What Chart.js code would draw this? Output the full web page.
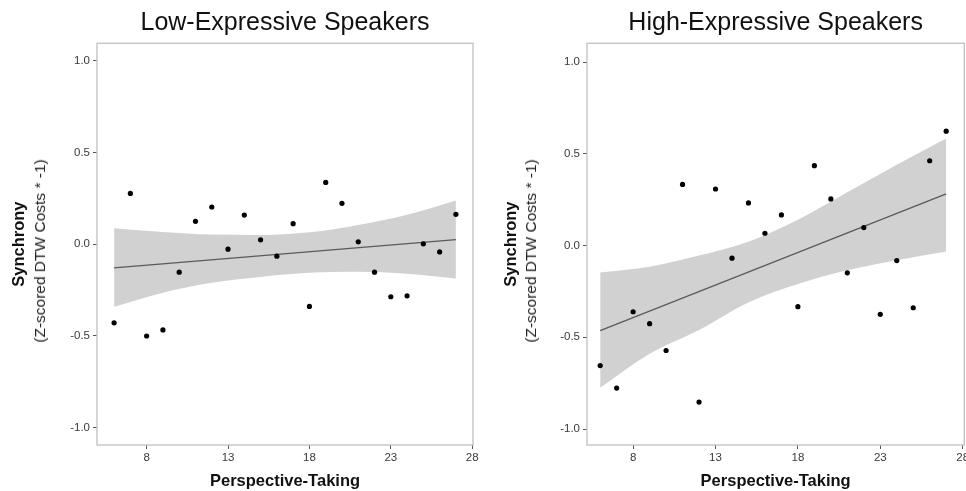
<!DOCTYPE html>
<html>
<head>
<meta charset="utf-8">
<script src="https://cdn.jsdelivr.net/npm/chart.js@4.4.1/dist/chart.umd.min.js"></script>
<style>
html,body{margin:0;padding:0;background:#fff;width:966px;height:491px;overflow:hidden;position:relative;}
.panel{position:absolute;top:0;height:491px;}
.sub{position:absolute;font-family:"Liberation Sans",Arial,Helvetica,sans-serif;font-size:15.5px;color:#222;white-space:nowrap;transform:translate(-50%,-50%) rotate(-90deg);}
</style>
</head>
<body>
<div class="panel" style="left:0;width:483px;"><canvas id="c1"></canvas></div>
<div class="panel" style="left:483px;width:500px;"><canvas id="c2"></canvas></div>
<div class="sub" style="left:39.7px;top:251px;">(Z-scored DTW Costs * -1)</div>
<div class="sub" style="left:531px;top:251px;">(Z-scored DTW Costs * -1)</div>
<script>
// ---- data ----
const panelTitles = ['Low-Expressive Speakers', 'High-Expressive Speakers'];
const xTitle = 'Perspective-Taking';
const yTitle = 'Synchrony';
const perspectiveTaking = [6,7,8,9,10,11,12,13,14,15,16,17,18,19,20,21,22,23,24,25,26,27];
const lowSynchrony = [-0.428,0.277,-0.500,-0.467,-0.152,0.125,0.203,-0.027,0.159,0.024,-0.065,0.112,-0.339,0.337,0.223,0.013,-0.152,-0.286,-0.281,0.002,-0.042,0.163];
const highSynchrony = [-0.654,-0.777,-0.361,-0.426,-0.572,0.333,-0.853,0.308,-0.069,0.232,0.067,0.167,-0.333,0.435,0.254,-0.149,0.098,-0.375,-0.082,-0.339,0.462,0.623];
const fitX = [6, 27];
const lowFit = [-0.129, 0.025];
const highFit = [-0.464, 0.281];
const bandX = [6, 9, 12, 15, 18, 21, 24, 27];
const lowUpper = [0.087, 0.067, 0.053, 0.051, 0.065, 0.105, 0.161, 0.239];
const lowLower = [-0.341, -0.264, -0.210, -0.178, -0.156, -0.150, -0.161, -0.187];
const highUpper = [-0.147, -0.115, -0.055, 0.020, 0.140, 0.290, 0.440, 0.583];
const highLower = [-0.775, -0.590, -0.460, -0.310, -0.210, -0.135, -0.080, -0.033];
const xTicks = [8, 13, 18, 23, 28];
const yTicks = [-1, -0.5, 0, 0.5, 1];
const yTickLabels = ['-1.0', '-0.5', '0.0', '0.5', '1.0'];

Chart.defaults.font.family = '"Liberation Sans", Arial, Helvetica, sans-serif';

const boxPlugin = {
  id: 'panelBox',
  afterDraw(chart) {
    const {ctx, chartArea: a} = chart;
    ctx.save();
    ctx.strokeStyle = '#c4c4c4';
    ctx.lineWidth = 1.4;
    ctx.strokeRect(a.left, a.top, a.right - a.left, a.bottom - a.top);
    ctx.restore();
  }
};

function pts(xs, ys) { return xs.map((x, i) => ({x: x, y: ys[i]})); }

function makePanel(id, title, ys, fit, upper, lower, cfg) {
  new Chart(document.getElementById(id), {
    type: 'scatter',
    data: {
      datasets: [
        {type: 'scatter', data: pts(perspectiveTaking, ys), backgroundColor: '#000', borderWidth: 0, pointRadius: 2.6, pointHoverRadius: 2.6},
        {type: 'line', data: pts(fitX, fit), borderColor: '#5a5a5a', borderWidth: 1.3, pointRadius: 0, fill: false},
        {type: 'line', data: pts(bandX, upper), borderWidth: 0, borderColor: 'rgba(0,0,0,0)', pointRadius: 0, fill: false, cubicInterpolationMode: 'monotone'},
        {type: 'line', data: pts(bandX, lower), borderWidth: 0, borderColor: 'rgba(0,0,0,0)', pointRadius: 0, fill: '-1', backgroundColor: '#d1d1d1', cubicInterpolationMode: 'monotone'}
      ]
    },
    options: {
      responsive: true,
      maintainAspectRatio: false,
      animation: false,
      layout: {padding: {left: 0, right: cfg.padRight, top: 0, bottom: 0}},
      plugins: {
        legend: {display: false},
        tooltip: {enabled: false},
        title: {
          display: true, text: title, fullSize: false,
          font: {size: 25, weight: 'normal'}, color: '#111',
          padding: {top: 8, bottom: 5.3}
        }
      },
      scales: {
        x: {
          type: 'linear', min: cfg.xmin, max: cfg.xmax,
          afterBuildTicks: s => { s.ticks = xTicks.map(v => ({value: v})); },
          afterFit: s => { s.height = 46; },
          ticks: {font: {size: 11.5}, color: '#3a3a3a', padding: 2, maxRotation: 0, autoSkip: false, callback: v => String(v)},
          grid: {drawOnChartArea: false, drawTicks: true, tickLength: 4, tickColor: '#555', lineWidth: 1},
          border: {display: false},
          title: {display: true, text: xTitle, font: {size: 16.5, weight: 'bold'}, color: '#111', padding: {top: 0, bottom: 0}}
        },
        y: {
          type: 'linear', min: cfg.ymin, max: cfg.ymax,
          afterBuildTicks: s => { s.ticks = yTicks.map(v => ({value: v})); },
          afterFit: s => { s.width = cfg.yWidth; },
          ticks: {font: {size: 11.5}, color: '#3a3a3a', padding: 3, autoSkip: false, callback: v => yTickLabels[yTicks.indexOf(v)]},
          grid: {drawOnChartArea: false, drawTicks: true, tickLength: 4, tickColor: '#555', lineWidth: 1},
          border: {display: false},
          title: {display: true, text: yTitle, font: {size: 16.5, weight: 'bold'}, color: '#111', padding: {top: cfg.yTitlePad, bottom: 0}}
        }
      }
    },
    plugins: [boxPlugin]
  });
}

makePanel('c1', panelTitles[0], lowSynchrony, lowFit, lowUpper, lowLower,
  {xmin: 4.95, xmax: 28.05, ymin: -1.094, ymax: 1.095, padRight: 10, yWidth: 97, yTitlePad: 9.8});
makePanel('c2', panelTitles[1], highSynchrony, highFit, highUpper, highLower,
  {xmin: 5.2, xmax: 28.1, ymin: -1.087, ymax: 1.102, padRight: 18.7, yWidth: 104, yTitlePad: 18.1});
</script>
</body>
</html>
